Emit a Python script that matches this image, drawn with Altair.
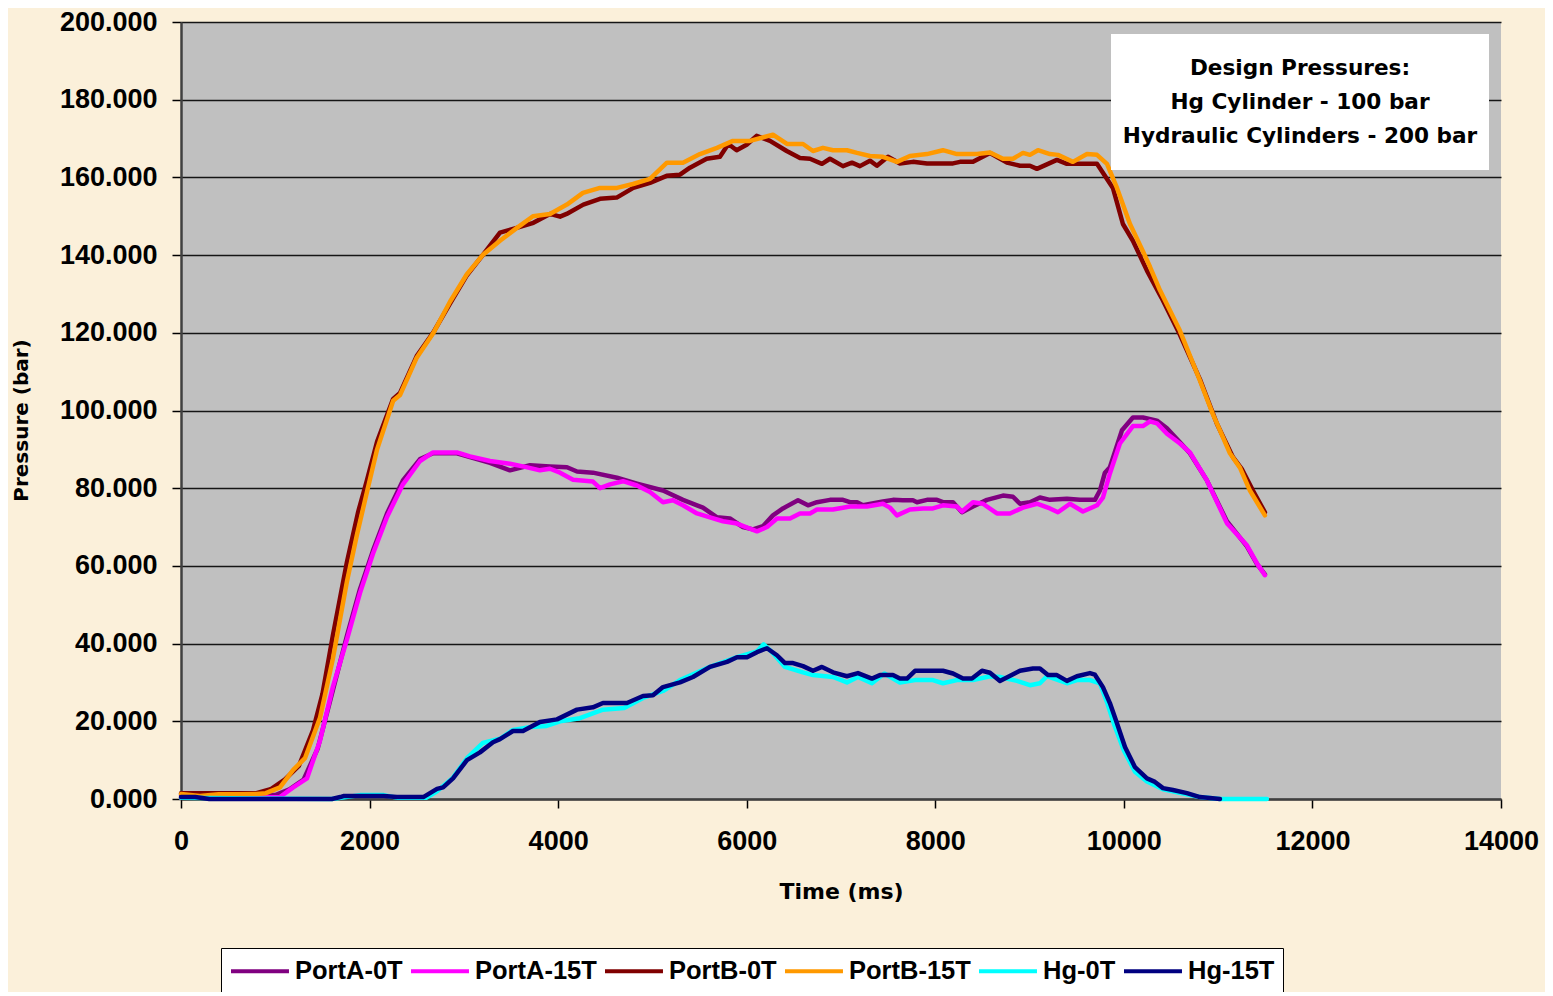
import altair as alt
import pandas as pd

SERIES = ["PortA-0T", "PortA-15T", "PortB-0T", "PortB-15T", "Hg-0T", "Hg-15T"]
COLORS = ["#800080", "#FF00FF", "#800000", "#FF9900", "#00FFFF", "#000080"]

portA_0T_t = [0, 500, 1000, 1150, 1300, 1450, 1600, 1760, 1898, 2037, 2185, 2354, 2535, 2673, 2927, 3065, 3277,
              3489, 3701, 3913, 4094, 4200, 4369, 4624, 4836, 5112, 5324, 5473, 5536, 5685, 5822, 5960, 6066,
              6172, 6278, 6384, 6544, 6650, 6745, 6883, 7021, 7095, 7170, 7233, 7445, 7551, 7657, 7763, 7806,
              7912, 8018, 8081, 8188, 8283, 8400, 8548, 8718, 8824, 8898, 9004, 9110, 9216, 9396, 9534, 9693,
              9746, 9799, 9852, 9980, 10096, 10202, 10351, 10457, 10595, 10701, 10881, 11093, 11305, 11411, 11496]
portA_0T_v = [1.0, 1.0, 1.0, 2.5, 5.0, 13.0, 27.0, 42.0, 54.0, 64.0, 73.5, 82.0, 87.5, 89.0, 89.0, 88.0, 86.5,
              84.6, 85.9, 85.6, 85.4, 84.3, 84.0, 82.7, 81.2, 79.4, 77.0, 75.6, 75.0, 72.5, 72.2, 70.0, 69.4,
              70.2, 73.0, 74.8, 76.9, 75.6, 76.4, 77.0, 77.0, 76.4, 76.4, 75.6, 76.6, 77.0, 76.9, 76.9, 76.4,
              77.0, 77.0, 76.4, 76.4, 73.8, 75.3, 77.0, 78.1, 77.8, 76.0, 76.4, 77.6, 77.0, 77.3, 77.0, 77.0,
              79.4, 84.0, 85.4, 94.9, 98.2, 98.2, 97.4, 95.4, 91.8, 89.0, 82.0, 71.5, 65.0, 60.5, 57.8]

portA_15T_t = [0, 500, 1050, 1190, 1336, 1474, 1610, 1760, 1898, 2037, 2185, 2354, 2535, 2673, 2927, 3065, 3277,
               3489, 3650, 3807, 3913, 4020, 4158, 4369, 4444, 4550, 4688, 4836, 4974, 5112, 5218, 5324, 5473,
               5610, 5748, 5897, 6109, 6215, 6321, 6459, 6565, 6671, 6745, 6915, 7095, 7275, 7445, 7519, 7594,
               7731, 7870, 7975, 8081, 8230, 8283, 8400, 8506, 8654, 8792, 8930, 9078, 9216, 9301, 9428, 9566,
               9715, 9778, 9852, 9958, 10096, 10202, 10277, 10351, 10457, 10595, 10701, 10881, 11093, 11305,
               11411, 11496]
portA_15T_v = [0.3, 0.3, 0.5, 3.0, 5.3, 15.0, 28.8, 41.0, 53.0, 63.2, 72.6, 81.0, 87.0, 89.2, 89.2, 88.2, 87.0,
               86.3, 85.5, 84.6, 85.0, 84.0, 82.2, 81.7, 80.0, 81.0, 81.8, 80.7, 79.0, 76.4, 76.9, 75.6, 73.5,
               72.5, 71.5, 70.9, 68.9, 70.0, 72.2, 72.2, 73.5, 73.5, 74.5, 74.5, 75.3, 75.3, 76.0, 75.0, 73.0,
               74.5, 74.8, 74.8, 75.6, 75.3, 74.0, 76.4, 76.0, 73.5, 73.5, 75.0, 76.0, 74.8, 73.8, 76.0, 74.0,
               75.6, 77.6, 83.8, 91.5, 96.0, 96.0, 97.2, 96.7, 94.0, 91.5, 89.2, 82.0, 71.0, 65.3,
               60.7, 57.6]

portB_0T_t = [0, 400, 800, 950, 1100, 1250, 1400, 1500, 1610, 1760, 1880, 1972, 2080, 2250, 2323, 2500, 2673,
              2853, 3030, 3200, 3383, 3560, 3737, 3913, 4020, 4090, 4267, 4444, 4621, 4797, 4974, 5151, 5292,
              5398, 5575, 5716, 5805, 5893, 5999, 6105, 6247, 6424, 6565, 6671, 6798, 6883, 7021, 7116, 7201,
              7307, 7381, 7498, 7625, 7763, 7912, 8188, 8262, 8400, 8580, 8760, 8898, 9004, 9078, 9290, 9396,
              9715, 9884, 9990, 10096, 10245, 10400, 10595, 10807, 10987, 11157, 11250, 11369, 11496]
portB_0T_v = [1.5, 1.5, 1.5, 2.5, 5.0, 8.5, 17.7, 27.0, 42.0, 61.0, 74.0, 82.0, 92.0, 103.0, 104.5, 114.0, 120.0,
              127.5, 134.7, 140.0, 145.8, 147.0, 148.3, 150.6, 149.9, 150.6, 153.0, 154.5, 154.8, 157.3, 158.6,
              160.4, 160.7, 162.5, 164.8, 165.3, 168.6, 167.0, 168.4, 170.7, 169.4, 166.8, 165.0, 164.8, 163.5,
              164.8, 162.9, 163.8, 162.9, 164.3, 163.0, 165.3, 163.6, 164.0, 163.6, 163.6, 164.0, 164.0, 166.3,
              163.8, 163.0, 163.0, 162.2, 164.5, 163.5, 163.5, 157.3, 148.0, 143.7, 136.0, 129.0, 119.5, 108.0,
              96.6, 88.0, 85.0, 79.4, 73.8]

portB_15T_t = [0, 200, 400, 600, 800, 900, 1050, 1190, 1315, 1475, 1610, 1760, 1866, 1972, 2080, 2250, 2323,
               2500, 2673, 2853, 3030, 3200, 3383, 3563, 3733, 3913, 4093, 4263, 4443, 4624, 4794, 4974, 5154,
               5324, 5504, 5685, 5854, 6035, 6278, 6427, 6597, 6703, 6809, 6915, 7063, 7170, 7307, 7445, 7594,
               7731, 7912, 8081, 8230, 8442, 8580, 8718, 8824, 8930, 9004, 9089, 9216, 9301, 9460, 9609, 9715,
               9821, 9927, 10065, 10202, 10277, 10382, 10595, 10807, 10945, 11125, 11231, 11337, 11496]
portB_15T_v = [1.3, 0.8, 1.2, 1.2, 1.3, 1.5, 3.0, 7.5, 10.5, 21.0, 36.0, 56.0, 68.0, 79.0, 90.0, 102.5, 104.0,
               113.6, 119.8, 128.0, 135.0, 140.0, 143.7, 147.0, 150.0, 150.6, 153.0, 156.0, 157.3, 157.3, 158.3,
               159.6, 163.8, 163.8, 166.0, 167.6, 169.4, 169.4, 171.0, 168.6, 168.6, 166.8, 167.6, 167.0, 167.0,
               166.3, 165.5, 165.3, 164.0, 165.5, 166.0, 167.0, 166.0, 166.0, 166.4, 164.8, 164.8, 166.3, 165.8,
               167.0, 166.0, 165.8, 164.0, 166.0, 165.8, 163.5, 157.3, 148.0, 141.0, 137.0, 131.0, 120.5, 107.7,
               99.0, 89.0, 85.3, 79.4, 73.0]

hg_0T_t = [0, 1600, 1900, 2150, 2300, 2600, 2715, 2885, 3033, 3200, 3383, 3521, 3700, 3877, 4020, 4231, 4475,
           4700, 4900, 5112, 5292, 5610, 5897, 6109, 6180, 6260, 6406, 6597, 6703, 6915, 7063, 7180, 7328, 7460,
           7625, 7785, 7975, 8081, 8230, 8400, 8580, 8686, 8866, 9004, 9110, 9184, 9396, 9502, 9640, 9746, 9820,
           9900, 10000, 10118, 10245, 10415, 10669, 10807, 11019, 11517]
hg_0T_v = [0.3, 0.0, 1.0, 1.0, 0.3, 0.3, 2.0, 5.5, 10.5, 14.4, 15.5, 17.8, 18.5, 18.8, 20.0, 20.8, 23.0,
           23.4, 26.0, 27.8, 30.6, 34.0, 36.5, 38.0, 39.8, 38.0, 34.0, 32.6, 31.9, 31.4, 30.0, 31.4, 29.8, 32.3,
           30.0, 30.6, 30.6, 29.8, 30.6, 30.6, 31.6, 31.4, 30.4, 29.3, 29.8, 31.6, 29.8, 30.6, 30.6, 29.8, 25.0,
           19.0, 12.5, 7.0, 4.5, 2.5, 1.2, 0.5, 0.0, 0.0]

hg_15T_t = [0, 150, 300, 1600, 1690, 1730, 2150, 2290, 2570, 2715, 2780, 2885, 3033, 3171, 3309, 3383, 3521,
            3627, 3807, 3988, 4200, 4369, 4475, 4730, 4900, 5006, 5112, 5292, 5430, 5610, 5791, 5897, 6003, 6109,
            6215, 6321, 6406, 6491, 6597, 6703, 6798, 6915, 7063, 7180, 7328, 7413, 7551, 7625, 7700, 7785, 8081,
            8188, 8294, 8389, 8495, 8580, 8686, 8898, 9036, 9110, 9195, 9290, 9396, 9502, 9640, 9693, 9778, 9852,
            9927, 10012, 10118, 10245, 10330, 10415, 10521, 10669, 10807, 11019]
hg_15T_v = [0.5, 0.5, 0.0, 0.0, 0.5, 0.8, 0.8, 0.5, 0.5, 2.6, 3.0, 5.3, 10.0, 12.0, 14.6, 15.4, 17.5,
            17.5, 19.8, 20.5, 23.0, 23.6, 24.7, 24.7, 26.5, 26.7, 28.8, 30.0, 31.4, 34.0, 35.3, 36.5, 36.5, 37.8,
            38.8, 37.0, 35.0, 35.0, 34.2, 33.0, 34.0, 32.6, 31.6, 32.4, 31.0, 31.9, 31.9, 31.0, 31.0, 33.0, 33.0,
            32.3, 31.0, 31.0, 33.0, 32.5, 30.4, 33.0, 33.6, 33.6, 31.9, 31.9, 30.4, 31.6, 32.4, 32.0, 28.8, 24.7,
            19.5, 13.4, 8.2, 5.3, 4.4, 2.8, 2.3, 1.5, 0.5, 0.0]

BOX_LINES = ["Design Pressures:", "Hg Cylinder - 100 bar", "Hydraulic Cylinders - 200 bar"]

series_data = {
    "PortA-0T": (portA_0T_t, portA_0T_v),
    "PortA-15T": (portA_15T_t, portA_15T_v),
    "PortB-0T": (portB_0T_t, portB_0T_v),
    "PortB-15T": (portB_15T_t, portB_15T_v),
    "Hg-0T": (hg_0T_t, hg_0T_v),
    "Hg-15T": (hg_15T_t, hg_15T_v),
}

rows = []
for name in SERIES:
    ts, vs = series_data[name]
    for t, v in zip(ts, vs):
        rows.append({"series": name, "time": t, "pressure": v})
df = pd.DataFrame(rows)

color_scale = alt.Scale(domain=SERIES, range=COLORS)
x_enc = alt.X("time:Q", scale=alt.Scale(domain=[0, 14000], nice=False),
              axis=alt.Axis(values=list(range(0, 14001, 2000)), format="d", title="Time (ms)", grid=False,
                            labelFlush=False, labelOverlap=False, titleY=82))
y_enc = alt.Y("pressure:Q", scale=alt.Scale(domain=[0, 200], nice=False),
              axis=alt.Axis(values=list(range(0, 201, 20)), format=".3f", title="Pressure (bar)",
                            grid=True, labelFlush=False, labelOverlap=False, titleX=-150, titleY=398))

base = alt.Chart(df)
layers = []
for name in SERIES:
    layers.append(
        base.transform_filter(alt.datum.series == name)
        .mark_line(strokeWidth=4.5, strokeJoin="round", strokeCap="round")
        .encode(x=x_enc, y=y_enc,
                color=alt.Color("series:N", scale=color_scale, legend=alt.Legend(title=None)),
                order="time:Q")
    )

box_df = pd.DataFrame({"k": [0]})
box = alt.Chart(box_df).mark_rect(fill="white", stroke=None).encode(
    x=alt.value(930), x2=alt.value(1308), y=alt.value(12), y2=alt.value(148))
texts = []
for i, line in enumerate(BOX_LINES):
    texts.append(alt.Chart(box_df).mark_text(
        text=line, font="DejaVu Sans", fontWeight="bold", fontSize=21.6, color="black",
        align="center", baseline="middle").encode(x=alt.value(1119), y=alt.value(47 + 34 * i)))

chart = alt.layer(*layers, box, *texts).properties(
    width=1320, height=777,
    autosize=alt.AutoSizeParams(type="none"),
    padding={"left": 173, "top": 14, "right": 44, "bottom": 193},
    background="#FBF0DA",
).configure_view(
    fill="#C0C0C0", stroke=None
).configure_axis(
    labelFont="Liberation Sans", labelFontWeight="bold", labelFontSize=27, labelColor="black",
    titleFont="DejaVu Sans", titleFontWeight="bold", titleFontSize=22, titleColor="black",
    tickColor="black", tickSize=9, tickWidth=1.5,
    domainColor="#404040", domainWidth=2.5,
    gridColor="#151515", gridWidth=1.3, gridOpacity=1,
).configure_axisX(
    labelPadding=20
).configure_axisY(
    labelPadding=15, titleFontSize=20
).configure_legend(
    orient="none", legendX=40, legendY=926, direction="horizontal", columns=6,
    symbolType="M-1,0H3.46", symbolSize=676, symbolStrokeWidth=4,
    labelFont="Liberation Sans", labelFontWeight="bold", labelFontSize=25.5, labelColor="black",
    labelOffset=36, columnPadding=0, padding=8,
    fillColor="white", strokeColor="black",
)

chart.save("out.html", embed_options={"renderer": "svg", "actions": False})
